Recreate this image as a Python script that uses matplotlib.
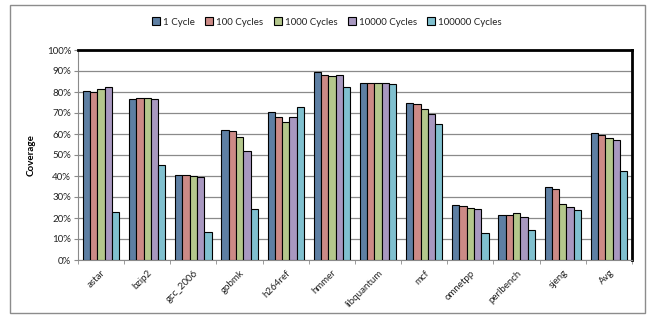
import numpy as np
import matplotlib
matplotlib.use('Agg')
import matplotlib.pyplot as plt
from matplotlib.patches import Rectangle
from matplotlib.ticker import FuncFormatter, MultipleLocator

plt.rcParams['font.family'] = ['Lato', 'DejaVu Sans']

# benchmark names and coverage (%) per cycle setting
benchmarks = ['astar', 'bzip2', 'gcc_2006', 'gobmk', 'h264ref', 'hmmer',
              'libquantum', 'mcf', 'omnetpp', 'perlbench', 'sjeng', 'Avg']
series_names = ['1 Cycle', '100 Cycles', '1000 Cycles', '10000 Cycles', '100000 Cycles']
cyc_1 = [80.7, 76.7, 40.5, 62.1, 70.3, 89.6, 84.4, 74.6, 26.3, 21.2, 34.8, 60.5]
cyc_100 = [80.2, 77.1, 40.5, 61.4, 68.3, 88.2, 84.1, 74.1, 25.9, 21.2, 33.7, 59.4]
cyc_1000 = [81.2, 77.1, 40.0, 58.4, 65.6, 87.6, 84.4, 71.9, 24.8, 22.2, 26.8, 58.3]
cyc_10000 = [82.4, 76.7, 39.4, 52.1, 68.3, 88.2, 84.4, 69.4, 24.2, 20.7, 25.4, 57.3]
cyc_100000 = [22.7, 45.3, 13.3, 24.4, 73.0, 82.4, 84.0, 64.6, 12.8, 14.2, 23.8, 42.2]
colors = ['#5e7fa3', '#cc8a86', '#b4c78c', '#a898c0', '#80c0cf']

fig = plt.figure(figsize=(6.54, 3.25), dpi=100)
ax = fig.add_axes([78 / 654, 1 - 260 / 325, (632 - 78) / 654, (260 - 50) / 325])

# outer chart frame
fig.patches.append(Rectangle((10 / 654, 1 - 313 / 325), 635 / 654, 308 / 325,
                             transform=fig.transFigure, fill=False,
                             edgecolor='#8c8c8c', linewidth=1.0))

x = np.arange(len(benchmarks))
width = 0.158
all_series = [cyc_1, cyc_100, cyc_1000, cyc_10000, cyc_100000]
for i, (vals, name, c) in enumerate(zip(all_series, series_names, colors)):
    ax.bar(x + (i - 2) * width, vals, width, color=c, edgecolor='black',
           linewidth=0.8, label=name, zorder=3)

ax.set_xlim(-0.5, len(benchmarks) - 0.5)
ax.set_ylim(0, 100)
ax.yaxis.set_major_locator(MultipleLocator(10))
ax.yaxis.set_major_formatter(FuncFormatter(lambda v, p: '%d%%' % v))
ax.grid(axis='y', color='#8a8a8a', linewidth=0.9, zorder=0)
ax.set_axisbelow(True)

ax.set_xticks(x)
ax.set_xticklabels(benchmarks, rotation=45, ha='right', rotation_mode='anchor',
                   fontsize=7, color='#222222')
ax.set_xticks(np.arange(-0.5, len(benchmarks)), minor=True)
ax.tick_params(axis='x', which='major', length=0, pad=6)
ax.tick_params(axis='x', which='minor', length=3, color='#8a8a8a')
ax.tick_params(axis='y', length=3, color='#8a8a8a', labelsize=7, pad=2, labelcolor='#222222')

ax.spines['top'].set_color('black')
ax.spines['top'].set_linewidth(2)
ax.spines['right'].set_color('black')
ax.spines['right'].set_linewidth(2)
ax.spines['left'].set_color('#8a8a8a')
ax.spines['bottom'].set_color('#8a8a8a')

ax.set_ylabel('Coverage', fontsize=7, fontweight='bold', labelpad=8)

fig.legend(loc='center', bbox_to_anchor=(0.50, 1 - 22 / 325), ncol=5, frameon=False,
           fontsize=7, handlelength=0.8, handleheight=0.8, handletextpad=0.3,
           columnspacing=1.1, labelcolor='#222222')

fig.savefig('out.png', dpi=100)
